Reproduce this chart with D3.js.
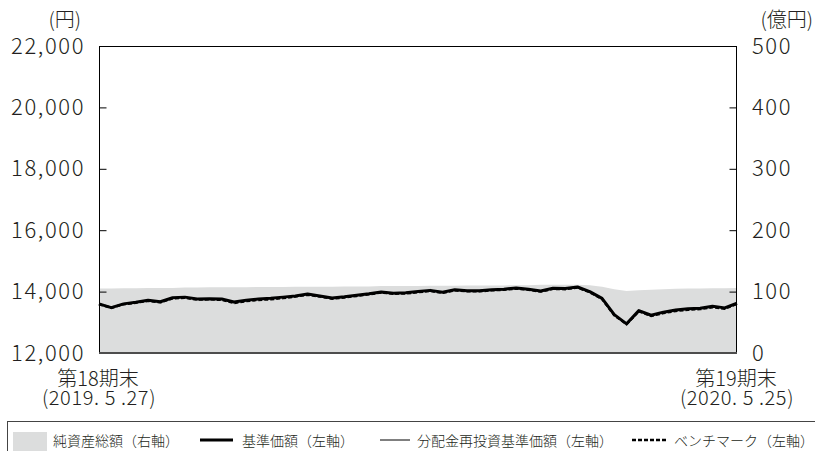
<!DOCTYPE html>
<html>
<head>
<meta charset="utf-8">
<script src="https://cdn.jsdelivr.net/npm/d3@7/dist/d3.min.js"></script>
<style>
  html, body { margin: 0; padding: 0; background: #fff; }
  svg { display: block; font-family: "Noto Sans CJK JP", "Noto Sans", sans-serif; }
</style>
</head>
<body>
<svg id="chart" width="815" height="451"></svg>
<script>
// Weekly observation dates (Mondays) from 第18期末 to 第19期末
const dates = [
  "2019-05-27","2019-06-03","2019-06-10","2019-06-17","2019-06-24","2019-07-01","2019-07-08","2019-07-15",
  "2019-07-22","2019-07-29","2019-08-05","2019-08-12","2019-08-19","2019-08-26","2019-09-02","2019-09-09",
  "2019-09-16","2019-09-23","2019-09-30","2019-10-07","2019-10-14","2019-10-21","2019-10-28","2019-11-04",
  "2019-11-11","2019-11-18","2019-11-25","2019-12-02","2019-12-09","2019-12-16","2019-12-23","2019-12-30",
  "2020-01-06","2020-01-13","2020-01-20","2020-01-27","2020-02-03","2020-02-10","2020-02-17","2020-02-24",
  "2020-03-02","2020-03-09","2020-03-16","2020-03-23","2020-03-30","2020-04-06","2020-04-13","2020-04-20",
  "2020-04-27","2020-05-04","2020-05-11","2020-05-18","2020-05-25"
];

// 基準価額 (円)
const nav = [
  13600,13480,13600,13650,13720,13670,13800,13820,13760,13770,13760,13660,13720,13760,13780,13820,
  13860,13920,13860,13790,13830,13880,13930,13990,13950,13960,14000,14040,13980,14060,14030,14030,
  14060,14080,14120,14080,14020,14110,14100,14150,14000,13780,13250,12950,13380,13230,13330,13400,
  13440,13460,13520,13470,13620
];

// 分配金再投資基準価額 (円)
const navReinvested = [
  13600,13480,13600,13650,13720,13670,13800,13820,13760,13770,13760,13660,13720,13760,13780,13820,
  13860,13920,13860,13790,13830,13880,13930,13990,13950,13960,14000,14040,13980,14060,14030,14030,
  14060,14080,14120,14080,14020,14110,14100,14150,14000,13780,13250,12950,13380,13230,13330,13400,
  13440,13460,13520,13470,13620
];

// ベンチマーク (円)
const benchmark = [
  13590,13470,13590,13640,13700,13650,13780,13800,13740,13750,13730,13630,13690,13730,13750,13790,
  13840,13900,13840,13770,13810,13860,13910,13970,13930,13940,13980,14020,13960,14040,14010,14010,
  14040,14060,14100,14060,14000,14090,14080,14130,13980,13760,13230,12940,13360,13210,13300,13370,
  13410,13430,13490,13440,13600
];

// 純資産総額 (億円)
const netAssets = [
  105,105,105.5,105.5,106,106,106,106.5,106.5,107,107,107,107,107.5,107.5,107.5,
  108,108,108,108,108.5,108.5,108.5,109,109,109,109,109.5,109.5,109.5,110,110,
  110,110,110.5,110.5,111,111,111,111,110.5,108,104,101,102,103,104,104.5,
  105,105,105.5,105.5,106
];

const leftTicks = [12000, 14000, 16000, 18000, 20000, 22000];
const rightTicks = [0, 100, 200, 300, 400, 500];
const periodLabels = [
  { date: "2019-05-27", line1: "第18期末", line2: "(2019. 5 .27)" },
  { date: "2020-05-25", line1: "第19期末", line2: "(2020. 5 .25)" }
];
const legendItems = ["純資産総額（右軸）", "基準価額（左軸）", "分配金再投資基準価額（左軸）", "ベンチマーク（左軸）"];

const parse = d3.timeParse("%Y-%m-%d");
const rows = dates.map((d, i) => ({
  date: parse(d), nav: nav[i], re: navReinvested[i], bm: benchmark[i], assets: netAssets[i]
}));

const svg = d3.select("#chart");
const m = { left: 99, right: 737, top: 46, bottom: 353 };
const textColor = "#231f20";
const font = "'Noto Sans CJK JP', sans-serif";

const x = d3.scaleTime()
  .domain([parse(dates[0]), parse(dates[dates.length - 1])])
  .range([m.left, m.right]);
const yL = d3.scaleLinear().domain([12000, 22000]).range([m.bottom, m.top]);
const yR = d3.scaleLinear().domain([0, 500]).range([m.bottom, m.top]);

// Net assets area (right axis)
svg.append("path")
  .datum(rows)
  .attr("fill", "#dcdddd")
  .attr("d", d3.area().x(d => x(d.date)).y0(yR(0)).y1(d => yR(d.assets)));

// Price lines (left axis)
const line = key => d3.line().x(d => x(d.date)).y(d => yL(d[key]));
svg.append("path").datum(rows)
  .attr("fill", "none").attr("stroke", "#000").attr("stroke-width", 3)
  .attr("stroke-linejoin", "round").attr("d", line("nav"));
svg.append("path").datum(rows)
  .attr("fill", "none").attr("stroke", "#000").attr("stroke-width", 1)
  .attr("d", line("re"));
svg.append("path").datum(rows)
  .attr("fill", "none").attr("stroke", "#000").attr("stroke-width", 2.5)
  .attr("stroke-dasharray", "4,2").attr("d", line("bm"));

// Frame top
svg.append("line").attr("x1", m.left).attr("x2", m.right).attr("y1", m.top + 0.5).attr("y2", m.top + 0.5)
  .attr("stroke", "#000").attr("stroke-width", 1);

const styleTickText = sel => sel
  .attr("font-size", 22).attr("font-weight", 300).attr("letter-spacing", 1.6)
  .attr("fill", textColor).attr("font-family", font);

// Left axis with inward ticks
const gL = svg.append("g").attr("transform", `translate(${m.left},0)`)
  .call(d3.axisLeft(yL).tickValues(leftTicks).tickSize(-7).tickPadding(14).tickFormat(d3.format(",")));
gL.select(".domain").attr("stroke", "#000").attr("d", `M0.5,${m.top}V${m.bottom}`);
gL.selectAll(".tick line").attr("stroke", "#000").attr("transform", "translate(0.5,0)");
styleTickText(gL.selectAll(".tick text"));
gL.selectAll(".tick").filter(d => d === 22000 || d === 12000).select("line").remove();

// Right axis with inward ticks
const gR = svg.append("g").attr("transform", `translate(${m.right},0)`)
  .call(d3.axisRight(yR).tickValues(rightTicks).tickSize(-7).tickPadding(15));
gR.select(".domain").attr("stroke", "#000").attr("d", `M-0.5,${m.top}V${m.bottom}`);
gR.selectAll(".tick line").attr("stroke", "#000").attr("transform", "translate(-0.5,0)");
styleTickText(gR.selectAll(".tick text"));
gR.selectAll(".tick").filter(d => d === 500 || d === 0).select("line").remove();

// Bottom axis line
svg.append("line").attr("x1", m.left).attr("x2", m.right).attr("y1", m.bottom).attr("y2", m.bottom)
  .attr("stroke", "#4d4d4d").attr("stroke-width", 2);

// Unit labels
svg.append("text").attr("x", 81).attr("y", 27).attr("text-anchor", "end")
  .attr("font-size", 20).attr("font-weight", 300).attr("fill", textColor).text("(円)");
svg.append("text").attr("x", 813).attr("y", 27).attr("text-anchor", "end")
  .attr("font-size", 20).attr("font-weight", 300).attr("fill", textColor).text("(億円)");

// Period labels under the x axis (two lines each)
periodLabels.forEach(p => {
  const px = x(parse(p.date));
  svg.append("text").attr("x", px - 1).attr("y", 386).attr("text-anchor", "middle")
    .attr("fill", textColor).attr("font-size", 20).attr("font-weight", 300).text(p.line1);
  svg.append("text").attr("x", px).attr("y", 405).attr("text-anchor", "middle")
    .attr("fill", textColor).attr("font-size", 20).attr("font-weight", 300)
    .attr("letter-spacing", 0.6).attr("xml:space", "preserve").text(p.line2);
});

// Legend
svg.append("rect").attr("x", 7.5).attr("y", 421.5).attr("width", 815).attr("height", 40)
  .attr("fill", "none").attr("stroke", "#444").attr("stroke-width", 1);
const ly = 440;
svg.append("rect").attr("x", 13).attr("y", 432).attr("width", 34).attr("height", 19).attr("fill", "#dcdddd");
const legendText = (tx, s) => svg.append("text").attr("x", tx).attr("y", ly + 5.5)
  .attr("font-size", 14).attr("font-weight", 300).attr("fill", textColor).text(s);
legendText(53, legendItems[0]);
svg.append("line").attr("x1", 200).attr("x2", 233).attr("y1", ly).attr("y2", ly)
  .attr("stroke", "#000").attr("stroke-width", 3);
legendText(242, legendItems[1]);
svg.append("line").attr("x1", 380).attr("x2", 410).attr("y1", ly).attr("y2", ly)
  .attr("stroke", "#000").attr("stroke-width", 1);
legendText(417, legendItems[2]);
svg.append("line").attr("x1", 632).attr("x2", 667).attr("y1", ly).attr("y2", ly)
  .attr("stroke", "#000").attr("stroke-width", 2.5).attr("stroke-dasharray", "4,2");
legendText(674, legendItems[3]);
</script>
</body>
</html>
